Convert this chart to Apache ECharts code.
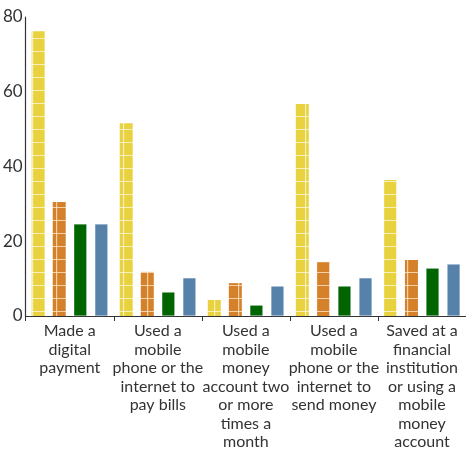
<!DOCTYPE html>
<html>
<head>
<meta charset="utf-8">
<script src="https://cdn.jsdelivr.net/npm/echarts@6/dist/echarts.min.js"></script>
<style>
  html, body { margin: 0; padding: 0; background: #fff; }
  #chart { width: 466px; height: 452px; }
</style>
</head>
<body>
<div id="chart"></div>
<script>
const categories = [
  'Made a\ndigital\npayment',
  'Used a\nmobile\nphone or the\ninternet to\npay bills',
  'Used a\nmobile\nmoney\naccount two\nor more\ntimes a\nmonth',
  'Used a\nmobile\nphone or the\ninternet to\nsend money',
  'Saved at a\nfinancial\ninstitution\nor using a\nmobile\nmoney\naccount'
];
const yellowValues = [76.2, 51.6, 4.3, 56.7, 36.4];
const orangeValues = [30.5, 11.8, 8.8, 14.4, 15.0];
const greenValues = [24.6, 6.4, 2.9, 8.0, 12.8];
const blueValues = [24.6, 10.2, 8.0, 10.2, 13.9];
const yTicks = [0, 20, 40, 60, 80];

const FONT = '"Liberation Sans Narrow", Lato, sans-serif';

// grid-like stripe pattern used by the two lighter series
function makePattern(base, line, vx) {
  const c = document.createElement('canvas');
  c.width = 13;
  c.height = 13;
  const ctx = c.getContext('2d');
  ctx.fillStyle = base;
  ctx.fillRect(0, 0, 13, 13);
  ctx.fillStyle = line;
  ctx.fillRect(vx, 0, 1.2, 13);
  ctx.fillRect(0, 12, 13, 1.2);
  return {image: c, repeat: 'repeat'};
}

const chart = echarts.init(document.getElementById('chart'));
chart.setOption({
  animation: false,
  grid: {
    left: 24,
    right: -4,
    top: 17,
    bottom: 136,
    containLabel: false,
  },
  xAxis: {
    type: 'category',
    data: categories,
    axisLine: {lineStyle: {color: '#333', width: 1.2}},
    axisTick: {show: true, length: 5, lineStyle: {color: '#333'}},
    axisLabel: {
      interval: 0,
      margin: 6,
      color: '#333',
      fontFamily: FONT,
      fontSize: 16,
      lineHeight: 18.5,
      align: 'center',
    },
  },
  yAxis: {
    type: 'value',
    min: yTicks[0],
    max: yTicks[yTicks.length - 1],
    interval: 20,
    splitLine: {show: false},
    axisLine: {show: true, lineStyle: {color: '#333', width: 1.2}},
    axisTick: {show: false},
    axisLabel: {
      margin: 3,
      color: '#333',
      fontFamily: FONT,
      fontSize: 17,
    },
  },
  series: [
    {
      type: 'bar',
      data: yellowValues,
      barWidth: 13,
      barGap: '62%',
      itemStyle: {color: makePattern('#E8D240', 'rgba(255,255,255,0.65)', 6)},
    },
    {
      type: 'bar',
      data: orangeValues,
      barWidth: 13,
      itemStyle: {color: makePattern('#D5802A', 'rgba(255,235,210,0.75)', 4)},
    },
    {
      type: 'bar',
      data: greenValues,
      barWidth: 13,
      itemStyle: {color: '#006400', borderColor: 'rgba(255,255,255,0.35)', borderWidth: 0.6},
    },
    {
      type: 'bar',
      data: blueValues,
      barWidth: 13,
      itemStyle: {color: '#5682AA', borderColor: 'rgba(255,255,255,0.35)', borderWidth: 0.6},
    },
  ],
});
</script>
</body>
</html>
